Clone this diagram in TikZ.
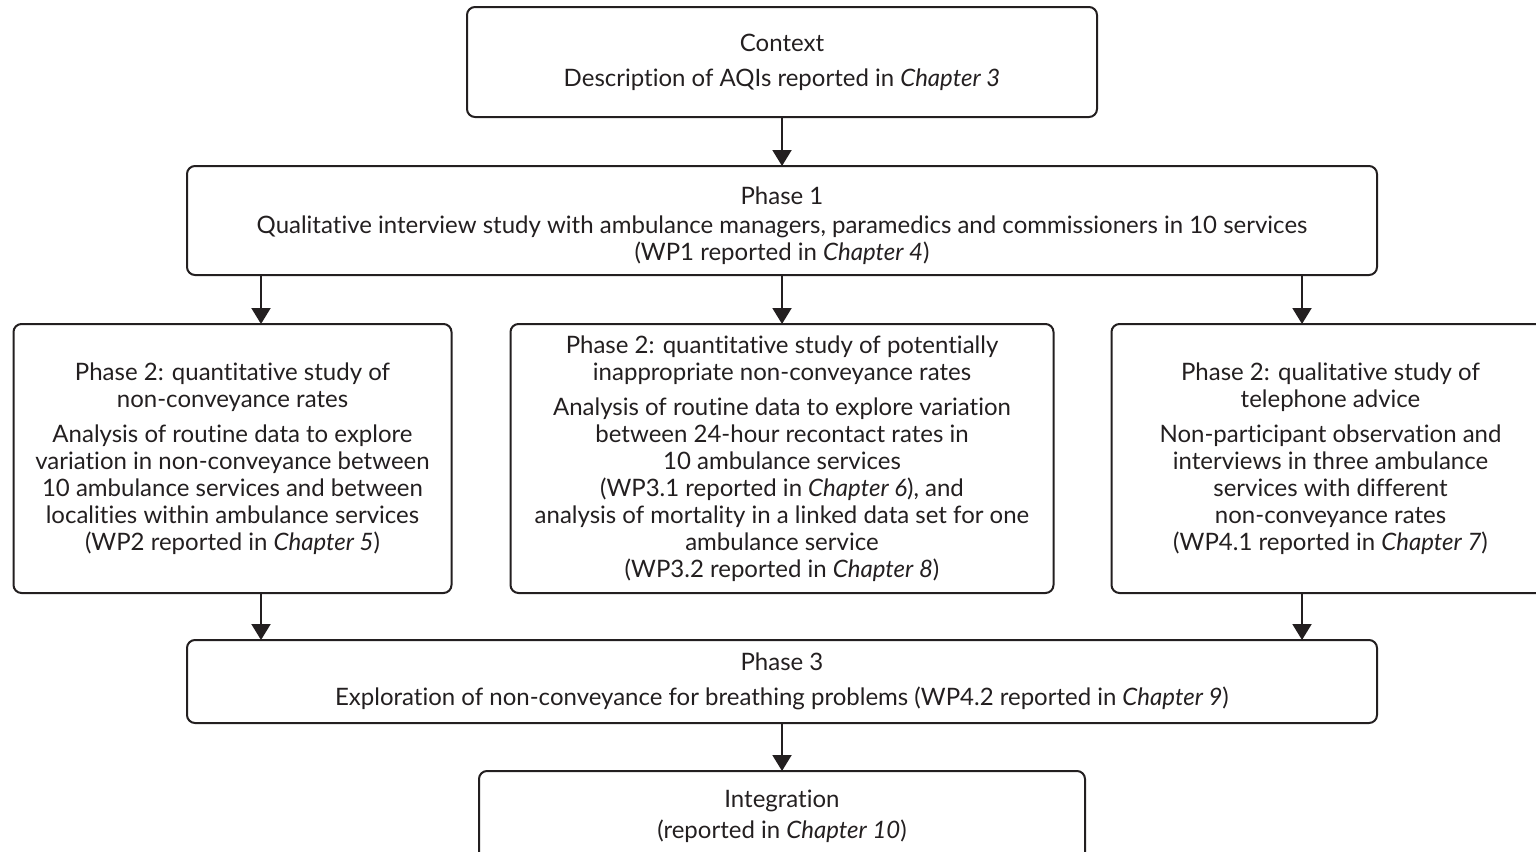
\documentclass[tikz,border=0pt]{standalone}
\usepackage{fontspec}
\setmainfont{Lato}[Ligatures=NoCommon]
\usetikzlibrary{%
	positioning,
	calc,
	arrows.meta
}
\definecolor{ink}{RGB}{35,31,32}

\begin{document}
\begin{tikzpicture}[
		SBox/.style={draw=ink,line width=1pt,shape=rectangle,rounded corners=4pt,align=center,inner sep=0pt,outer sep=0pt,text=ink,font=\fontsize{12}{13.5}\selectfont},
		SPhase/.style={SBox,minimum width=595pt},
		SWork/.style={SBox,minimum height=134.5pt},
		arrow/.style={draw=ink,line width=1pt,-{Triangle[length=8pt,width=9.5pt]}}
	]
	\clip (0,0) rectangle (768pt,-425.5pt);

	\node(context) [SBox, minimum width=315pt, minimum height=55pt] at (391pt,-31pt) {Context\\[4pt] Description of AQIs reported in \textit{Chapter 3}};

	\node(phase1) [SPhase, minimum height=54.5pt, below=24.5pt of context] {\rule{0pt}{14pt}Phase 1\\[1pt] Qualitative interview study with ambulance managers, paramedics and commissioners in 10 services\\ (WP1 reported in \textit{Chapter 4})};

	\node(wp3) [SWork, minimum width=271.5pt, below=24.5pt of phase1] {Phase 2: quantitative study of potentially\\ inappropriate non-conveyance rates\\[4pt] Analysis of routine data to explore variation\\ between 24-hour recontact rates in\\ 10 ambulance services\\ (WP3.1 reported in \textit{Chapter 6}), and\\ analysis of mortality in a linked data set for one\\ ambulance service\\ (WP3.2 reported in \textit{Chapter 8})};
	\node(wp2) [SWork, minimum width=219pt, left=29.5pt of wp3] {Phase 2: quantitative study of\\ non-conveyance rates\\[4pt] Analysis of routine data to explore\\ variation in non-conveyance between\\ 10 ambulance services and between\\ localities within ambulance services\\ (WP2 reported in \textit{Chapter 5})};
	\node(wp4) [SWork, minimum width=219pt, right=29pt of wp3] {Phase 2: qualitative study of\\ telephone advice\\[4pt] Non-participant observation and\\ interviews in three ambulance\\ services with different\\ non-conveyance rates\\ (WP4.1 reported in \textit{Chapter 7})};

	\node(phase3) [SPhase, minimum height=41.5pt, below=23.5pt of wp3] {Phase 3\\[4pt] Exploration of non-conveyance for breathing problems (WP4.2 reported in \textit{Chapter 9})};

	\node(integ) [SBox, minimum width=303pt, minimum height=45pt, below=24pt of phase3] {Integration\\[2pt] (reported in \textit{Chapter 10})};

	% columns of the side arrows
	\coordinate (colL) at ([xshift=37pt]phase1.south west);
	\coordinate (colR) at ([xshift=-37.5pt]phase1.south east);

	\draw [arrow] (context) -- (phase1);
	\draw [arrow] (colL) -- (colL |- wp2.north);
	\draw [arrow] (phase1.south) -- (phase1.south |- wp3.north);
	\draw [arrow] (colR) -- (colR |- wp4.north);
	\draw [arrow] (colL |- wp2.south) -- (colL |- phase3.north);
	\draw [arrow] (colR |- wp4.south) -- (colR |- phase3.north);
	\draw [arrow] (phase3) -- (integ);
\end{tikzpicture}
\end{document}
